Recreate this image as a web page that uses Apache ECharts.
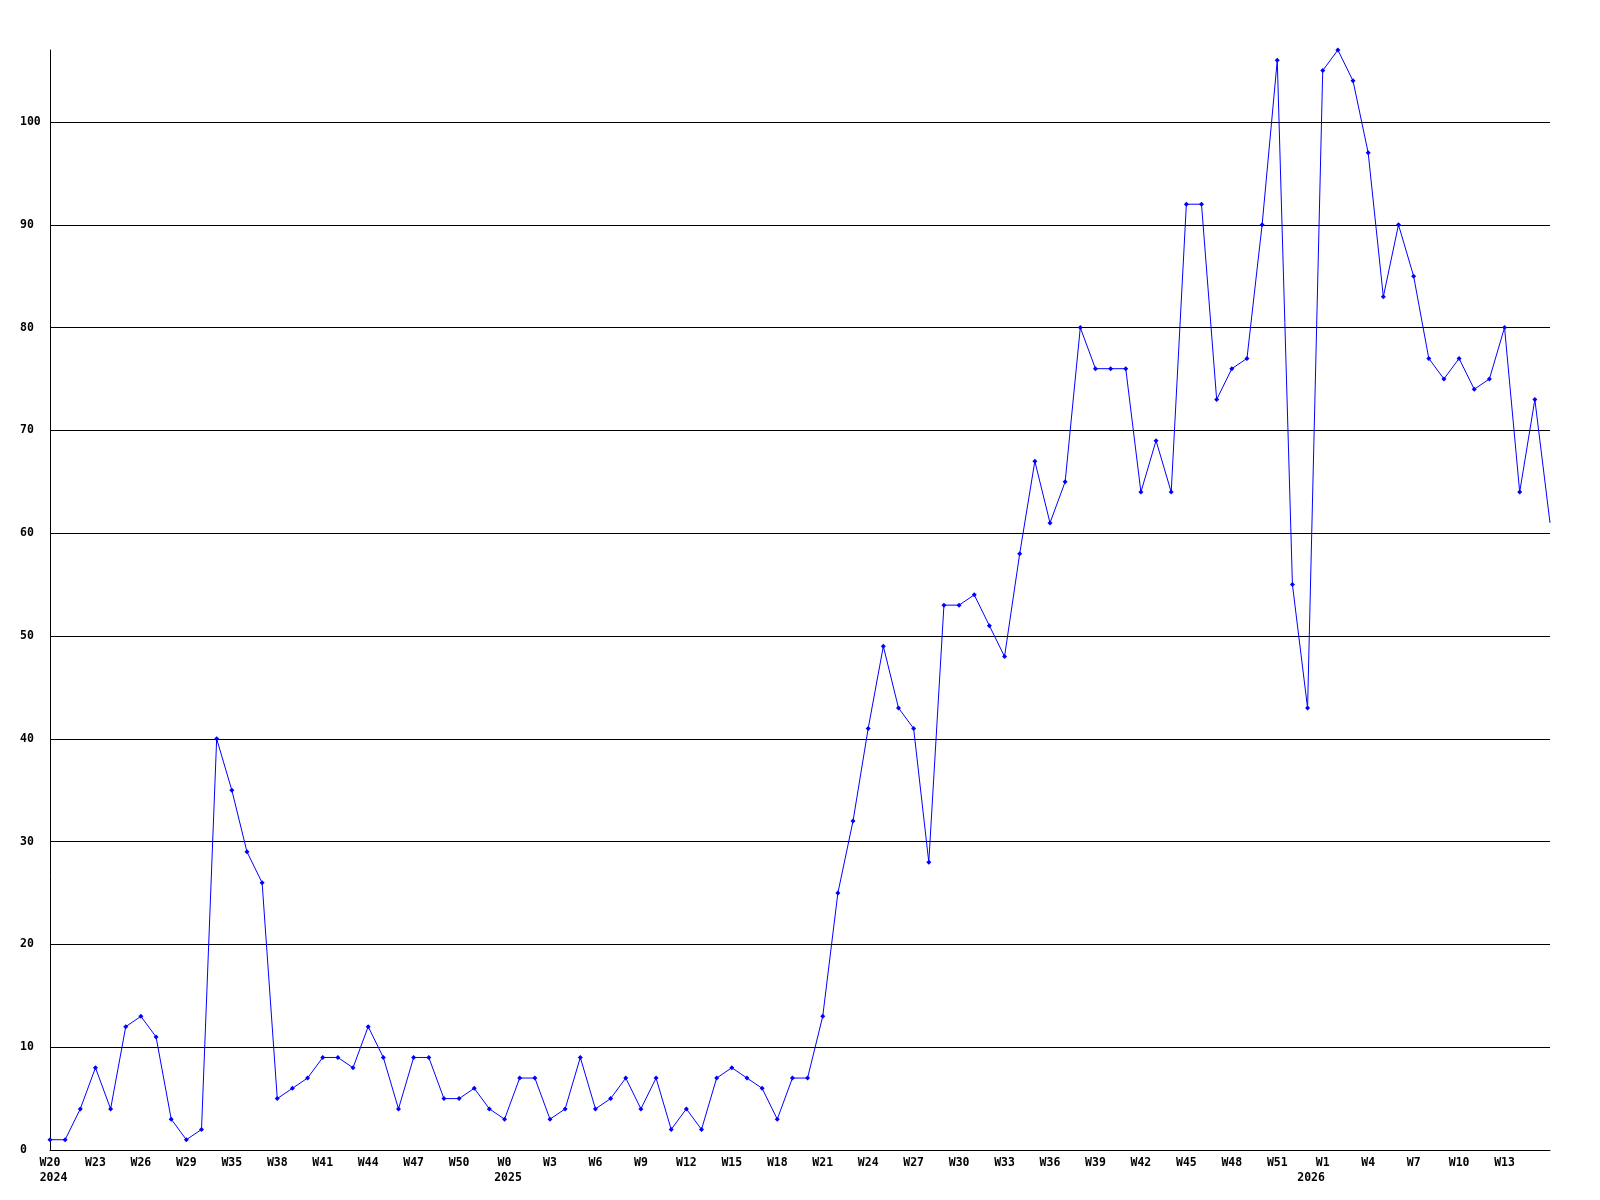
<!DOCTYPE html>
<html>
<head>
<meta charset="utf-8">
<script src="https://cdn.jsdelivr.net/npm/echarts@6/dist/echarts.min.js"></script>
<style>
html,body{margin:0;padding:0;background:#fff;}
#chart{width:1600px;height:1200px;}
</style>
</head>
<body>
<div id="chart"></div>
<script>
// Week categories (one per data point)
const weeks = [
  'W20','W21','W22','W23','W24','W25','W26','W27','W28','W29','W30','W34',
  'W35','W36','W37','W38','W39','W40','W41','W42','W43','W44','W45','W46','W47','W48','W49','W50','W51','W52',
  'W0','W1','W2','W3','W4','W5','W6','W7','W8','W9','W10','W11','W12','W13','W14','W15','W16','W17','W18','W19',
  'W20','W21','W22','W23','W24','W25','W26','W27','W28','W29','W30','W31','W32','W33','W34','W35','W36','W37',
  'W38','W39','W40','W41','W42','W43','W44','W45','W46','W47','W48','W49','W50','W51','W52',
  'W0','W1','W2','W3','W4','W5','W6','W7','W8','W9','W10','W11','W12','W13','W14','W15','W16'
];
// Year labels and the category index where each year starts
const yearIndex = [0, 30, 83];
const yearLabels = ['2024', '2025', '2026'];
// Series values
const counts = [
  1, 1, 4, 8, 4, 12, 13, 11, 3, 1, 2, 40, 35, 29, 26, 5, 6, 7, 9, 9, 8, 12, 9, 4, 9,
  9, 5, 5, 6, 4, 3, 7, 7, 3, 4, 9, 4, 5, 7, 4, 7, 2, 4, 2, 7, 8, 7, 6, 3, 7, 7,
  13, 25, 32, 41, 49, 43, 41, 28, 53, 53, 54, 51, 48,
  58, 67, 61, 65, 80, 76, 76, 76, 64, 69, 64, 92, 92, 73, 76, 77, 90, 106, 55, 43,
  105, 107, 104, 97, 83, 90, 85, 77, 75, 77, 74, 75, 80, 64, 73, 61
];

const FONT = 'DejaVu Sans Mono';
const FS = 11.5;
const labelStyle = {fontFamily: FONT, fontWeight: 'bold', fontSize: FS, color: '#000'};

const seriesData = counts.map((v, i) => i === counts.length - 1 ? {value: v, symbol: 'none'} : v);

const chart = echarts.init(document.getElementById('chart'), null, {renderer: 'canvas'});
chart.setOption({
  animation: false,
  backgroundColor: '#fff',
  grid: {left: 50, right: 50, top: 50, bottom: 50, containLabel: false},
  xAxis: [{
    type: 'category',
    data: weeks,
    boundaryGap: false,
    axisLine: {show: true, lineStyle: {color: '#000', width: 1}},
    axisTick: {show: false},
    splitLine: {show: false},
    axisLabel: Object.assign({
      interval: function (index) { return index % 3 === 0 && index !== weeks.length - 1; },
      margin: 6,
      lineHeight: 15,
      verticalAlign: 'top'
    }, labelStyle)
  }, {
    type: 'category',
    data: weeks,
    position: 'bottom',
    boundaryGap: false,
    axisLine: {show: false},
    axisTick: {show: false},
    splitLine: {show: false},
    axisLabel: Object.assign({
      interval: function (index) { return yearIndex.indexOf(index) >= 0; },
      margin: 21,
      lineHeight: 15,
      verticalAlign: 'top',
      padding: [0, 0, 0, 7],
      formatter: function (value, index) {
        const yi = yearIndex.indexOf(index);
        return yi < 0 ? '' : yearLabels[yi];
      }
    }, labelStyle)
  }],
  yAxis: {
    type: 'value',
    min: 0,
    max: 107,
    interval: 10,
    axisLine: {show: true, lineStyle: {color: '#000', width: 1}},
    axisTick: {show: false},
    splitLine: {show: true, showMaxLine: false, lineStyle: {color: '#000', width: 1}},
    axisLabel: Object.assign({
      showMaxLabel: false,
      align: 'left',
      margin: 30
    }, labelStyle)
  },
  series: [{
    type: 'line',
    xAxisIndex: 0,
    data: seriesData,
    symbol: 'diamond',
    symbolSize: 5,
    showAllSymbol: true,
    lineStyle: {color: '#0000ff', width: 1},
    itemStyle: {color: '#0000ff'},
    emphasis: {disabled: true}
  }]
});
</script>
</body>
</html>
